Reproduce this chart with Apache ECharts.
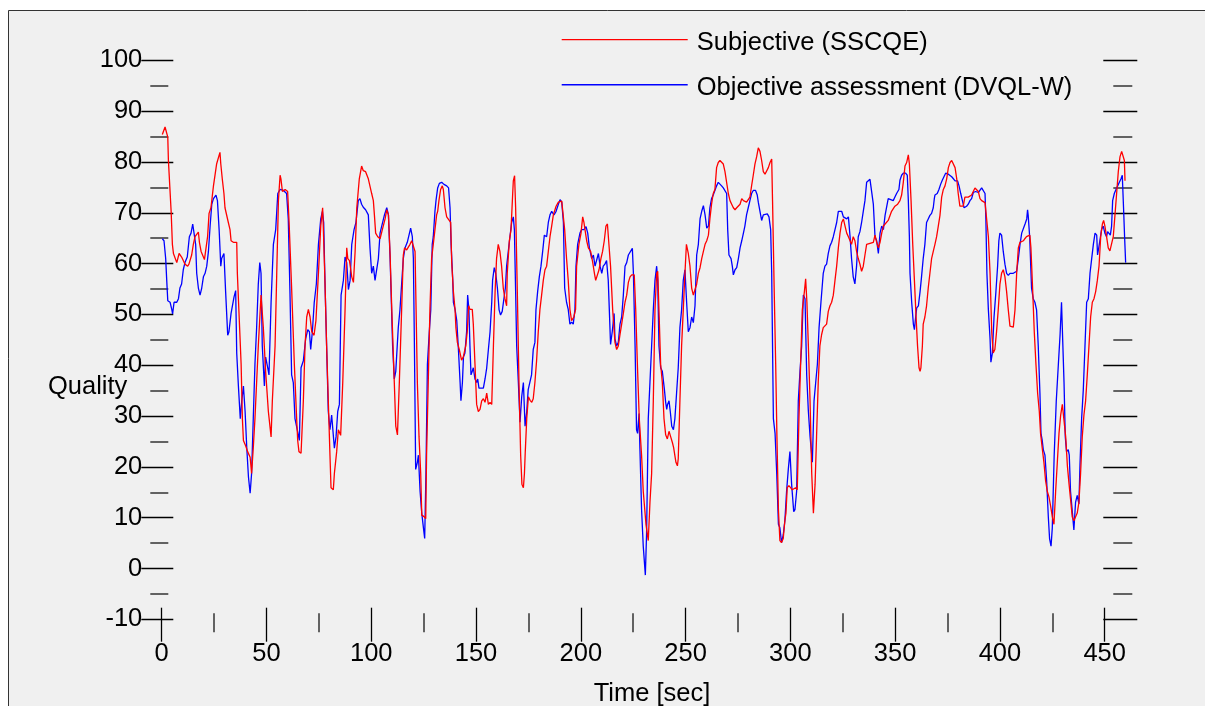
<!DOCTYPE html>
<html>
<head>
<meta charset="utf-8">
<title>Subjective vs objective quality</title>
<script src="https://cdn.jsdelivr.net/npm/echarts@6/dist/echarts.min.js"></script>
<style>
  html, body { margin: 0; padding: 0; background: #fff; }
  #chart { width: 1205px; height: 706px; }
</style>
</head>
<body>
<div id="chart"></div>
<script>
// [time (sec), quality] pairs
var subjectiveSSCQE = [
    [0.3,85.4],[1.6,86.9],[2.4,86.7],[2.9,84.9],[3.2,80.3],[4.5,70.3],[5.1,63.8],[5.6,62.0],[7.2,60.2],[8.3,62.0],[9.5,61.3],[10.3,60.6],[11.1,59.9],[12.4,59.5],[13.0,59.9],[14.3,61.7],[15.1,63.8],[15.9,65.3],[17.5,66.2],[18.0,64.2],[18.8,62.4],[20.4,60.8],[21.0,61.0],[21.9,65.3],[22.6,69.9],[23.5,71.0],[24.7,75.3],[26.2,79.6],[27.8,81.9],[28.2,79.6],[28.9,76.7],[29.7,73.8],[30.2,71.0],[31.8,68.1],[32.6,66.7],[33.1,64.5],[34.2,64.2],[35.8,64.2],[36.1,58.1],[37.4,45.2],[37.9,40.2],[38.5,29.5],[39.0,25.2],[40.1,24.1],[41.0,23.0],[42.2,21.9],[42.9,18.7],[43.7,23.7],[44.5,29.5],[46.1,43.8],[47.4,53.8],[48.5,47.4],[49.6,38.8],[50.9,30.9],[52.2,25.9],[52.8,33.0],[54.1,43.8],[54.9,58.1],[55.7,72.4],[56.5,77.4],[56.9,76.7],[57.6,74.2],[58.9,74.6],[60.1,74.2],[60.8,68.1],[62.0,55.2],[63.3,40.2],[64.4,29.5],[64.9,25.2],[65.5,23.0],[66.5,22.7],[67.6,33.0],[68.4,43.8],[69.2,49.5],[70.0,51.0],[70.8,49.5],[71.6,46.6],[72.7,45.9],[73.6,48.8],[74.8,58.1],[75.9,67.4],[76.8,71.0],[77.1,67.4],[77.9,56.7],[78.7,43.8],[79.5,33.0],[80.3,22.3],[80.8,15.9],[81.9,15.5],[82.4,18.7],[83.5,23.0],[84.3,27.3],[85.4,26.2],[86.4,36.6],[87.5,50.9],[88.3,63.1],[88.8,61.0],[89.6,60.6],[90.7,57.4],[91.5,56.3],[92.3,62.4],[93.1,71.0],[94.3,76.7],[95.4,79.2],[96.2,78.3],[97.3,78.1],[98.6,76.7],[100.2,73.8],[101.0,72.4],[101.5,69.6],[102.1,66.0],[103.1,65.3],[104.2,64.9],[105.3,66.7],[106.6,68.8],[107.4,70.6],[108.2,69.6],[109.0,61.7],[109.8,50.9],[111.0,36.6],[111.7,28.0],[112.5,26.3],[113.4,36.6],[114.5,50.9],[115.3,61.7],
    [115.9,63.1],[116.9,62.7],[117.7,62.7],[118.5,63.8],[119.3,64.5],[120.1,64.4],[120.9,62.4],[121.4,50.9],[122.0,36.6],[122.8,25.9],[123.6,18.7],[124.1,10.5],[125.2,10.2],[126.0,9.8],[126.4,22.3],[127.2,36.6],[128.0,50.9],[128.8,61.0],[129.6,63.8],[130.4,66.7],[131.2,69.6],[131.7,70.3],[132.3,72.4],[133.1,74.6],[133.9,75.3],[134.4,74.6],[135.2,71.0],[136.0,69.2],[136.9,69.0],[137.9,68.1],[138.4,60.2],[139.2,54.5],[140.0,50.9],[140.4,47.4],[141.1,44.5],[142.0,43.1],[143.1,41.0],[143.9,41.6],[145.1,43.8],[145.8,46.6],[146.5,51.7],[147.1,51.0],[148.2,51.0],[148.7,48.1],[149.5,40.2],[150.3,32.3],[151.1,30.9],[151.9,31.3],[152.7,33.0],[153.5,33.4],[154.3,32.7],[155.1,34.5],[155.9,32.3],[156.7,32.7],[157.5,32.3],[158.3,43.8],[159.1,54.5],[159.8,61.0],[160.6,63.8],[161.4,62.4],[162.2,59.5],[163.0,55.2],[163.8,53.1],[164.6,51.7],[164.9,58.1],[165.9,64.5],[166.7,66.7],[167.5,73.8],[167.8,76.3],[168.4,77.3],[168.9,71.0],[169.7,54.5],[170.5,36.6],[171.3,22.3],[171.9,16.6],[172.6,15.9],[173.1,18.7],[173.5,23.0],[174.2,29.5],[175.0,33.8],[175.8,33.1],[176.6,32.7],[177.3,33.4],[178.1,36.6],[178.9,40.9],[179.7,46.6],[180.5,51.0],[181.3,53.8],[182.1,56.7],[182.9,58.8],[183.7,59.5],[184.5,62.4],[185.3,65.3],[186.1,67.4],[186.9,69.6],[188.2,71.3],[189.3,72.1],[190.1,72.4],[190.9,72.3],[191.7,72.1],[192.3,66.7],[193.2,61.0],[194.0,56.7],[194.8,51.0],[195.6,48.8],[196.7,49.5],[197.5,51.0],[198.0,59.5],[199.1,63.8],[200.1,66.0],[200.9,69.2],[201.5,68.1],[202.0,66.7],[202.8,64.5],[203.6,63.1],[204.7,62.4],[205.7,60.2],[206.5,58.1],[207.1,56.7],[207.9,57.0],[208.7,58.8],[209.6,61.0],[210.4,62.4],[211.2,64.5],[212.0,67.4],[212.7,67.8],[213.6,67.8],[214.2,59.5],[215.2,51.0],[216.3,44.5],[217.1,43.1],[217.9,43.8],[218.7,46.0],[219.5,48.1],[220.3,50.2],[221.1,52.4],[221.9,53.8],[222.7,56.3],[223.5,57.4],[224.3,57.8],[225.5,57.8],[226.2,51.0],[227.0,40.2],[227.9,29.5],[229.0,22.3],[229.8,15.2],[231.1,8.7],
    [232.2,5.5],[233.0,13.0],[233.8,18.7],[234.6,33.0],[235.4,50.9],[236.2,58.1],[236.7,58.5],[237.3,50.9],[238.1,40.2],[238.9,36.6],[239.7,29.5],[240.5,26.3],[241.3,25.5],[242.1,27.0],[242.9,25.9],[243.7,24.8],[244.3,23.8],[244.9,24.1],[245.4,20.9],[246.1,20.2],[246.5,21.6],[247.3,33.0],[248.1,43.8],[248.9,50.9],[249.7,58.1],[250.4,63.8],[251.3,62.0],[252.1,59.5],[252.9,55.2],[253.7,53.8],[254.5,53.8],[255.3,56.0],[256.1,58.1],[256.9,59.2],[257.7,61.0],[258.5,62.4],[259.3,63.8],[260.1,64.5],[260.9,65.6],[261.6,68.8],[262.4,71.7],[263.2,73.8],[264.0,74.6],[264.8,78.9],[265.6,79.9],[266.4,80.3],[267.2,80.6],[268.0,79.6],[268.8,78.1],[269.6,78.3],[270.4,73.8],[271.2,72.4],[272.0,71.7],[272.8,71.0],[273.6,70.6],[274.4,71.0],[275.2,71.1],[276.0,71.7],[276.8,72.8],[277.6,72.4],[278.3,72.1],[279.1,72.1],[279.9,72.4],[280.7,73.1],[281.5,75.3],[282.3,77.4],[283.1,79.6],[283.9,81.0],[284.7,82.8],[285.5,82.1],[286.3,80.3],[287.1,78.1],[287.9,77.6],[288.7,77.8],[289.5,78.9],[290.3,79.9],[291.1,80.6],[291.5,72.4],[292.3,54.5],[293.0,40.2],[293.6,25.9],[294.3,11.6],[295.0,5.5],[295.8,5.1],[296.6,5.9],[297.4,9.5],[297.9,10.9],[298.5,15.9],[299.3,16.3],[300.1,15.9],[300.9,15.5],[301.7,15.2],[302.5,15.9],[303.3,15.5],[304.1,29.5],[304.9,40.2],[305.7,50.9],[306.7,54.5],[307.3,57.0],[307.9,52.4],[308.6,43.8],[309.4,33.0],[310.2,18.7],[311.0,10.9],[311.8,16.6],[312.5,25.9],[313.3,36.6],[314.1,43.8],[314.9,46.0],[315.7,47.4],[316.5,47.4],[317.3,48.1],[318.1,50.6],[318.9,51.7],[319.7,52.4],[320.5,53.8],[321.3,56.7],[322.1,59.5],[322.9,63.1],[323.7,66.0],[324.5,68.1],[325.3,68.8],[326.1,67.4],[326.9,66.0],[327.7,65.3],[328.5,64.5],[329.2,63.8],[330.0,65.3],[330.8,64.5],[331.6,62.4],[332.4,61.0],[333.2,59.9],[334.0,58.5],[334.8,59.5],[335.6,61.7],[336.4,63.8],[337.2,63.8],[338.0,64.0],[338.8,63.8],[339.6,64.2],[340.4,65.6],[341.2,64.2],[342.0,63.1],[342.8,64.2],[343.6,66.0],[344.4,67.4],
    [345.2,67.4],[346.7,68.5],[348.3,70.3],[349.9,71.3],[351.2,71.7],[352.3,72.4],[353.1,73.5],[353.9,76.0],[354.7,79.2],[355.5,79.9],[356.3,81.4],[356.8,79.6],[357.6,72.4],[358.4,63.8],[359.2,56.7],[360.0,49.5],[360.7,43.8],[361.4,39.5],[361.9,38.8],[362.3,39.5],[363.0,43.8],[363.4,48.1],[364.2,49.5],[365.0,51.7],[365.8,55.2],[366.6,58.1],[367.4,61.0],[368.2,62.4],[369.0,63.8],[369.8,65.3],[370.6,67.4],[371.4,69.5],[372.2,73.1],[373.0,74.6],[373.8,75.3],[374.6,76.7],[375.4,78.9],[376.2,79.9],[377.0,80.3],[377.8,80.3],[378.6,78.9],[379.4,76.7],[380.1,73.8],[380.9,71.3],[381.7,71.1],[382.5,71.3],[383.3,73.1],[384.1,73.3],[384.9,73.1],[385.7,73.0],[386.5,73.5],[387.3,74.2],[388.1,74.9],[388.9,74.9],[389.7,74.2],[390.5,72.8],[391.3,72.4],[392.1,72.2],[392.9,72.0],[393.7,71.7],[394.5,65.3],[395.3,58.1],[396.1,46.6],[396.8,42.4],[397.6,43.1],[398.4,46.6],[399.2,50.9],[400.0,55.9],[400.8,58.1],[401.6,58.8],[402.4,57.4],[403.2,54.5],[404.0,50.9],[404.8,47.7],[405.6,47.4],[406.4,47.5],[407.2,50.9],[408.0,58.1],[408.8,63.1],[409.6,64.2],[410.4,64.2],[411.2,64.5],[411.9,64.9],[412.7,65.3],[413.5,65.6],[414.3,65.6],[414.8,63.1],[415.6,55.2],[416.4,46.6],[417.2,40.2],[418.0,34.5],[418.8,30.9],[419.4,26.6],[420.2,23.7],[421.0,20.9],[421.8,17.3],[422.6,15.2],[423.4,14.1],[424.2,12.3],[425.0,10.2],[425.8,8.7],[426.6,15.2],[427.4,20.9],[428.2,26.6],[429.0,30.2],[429.8,32.3],[430.6,32.0],[431.4,25.9],[432.2,20.2],[433.0,16.6],[433.7,13.7],[434.5,10.2],[435.3,9.4],[436.1,9.4],[436.9,10.9],[437.7,13.0],[438.5,18.7],[439.3,25.9],[440.1,30.2],[440.9,33.0],[441.7,38.1],[442.5,43.8],[443.3,49.5],[444.1,52.4],[444.9,53.1],[445.7,54.5],[446.5,56.7],[447.3,59.5],[448.1,65.3],[448.9,67.8],[449.5,68.5],[450.1,67.4],[450.9,65.3],[451.7,63.1],[452.5,62.5],[453.3,62.7],[454.1,65.3],[454.9,69.5],[455.7,73.8],[456.5,78.1],[457.3,81.0],[458.1,82.1],[458.9,82.3],[459.4,80.3],[459.7,76.3]
];

var objectiveDVQLW = [
    [0.3,64.9],[1.1,64.5],[1.9,61.0],[2.4,56.7],[2.9,52.7],[4.0,52.4],[4.8,51.0],[5.2,50.1],[5.9,52.4],[7.2,52.4],[8.0,53.1],[8.7,55.2],[9.5,56.0],[10.3,58.8],[11.1,60.2],[12.2,61.3],[13.2,65.3],[14.0,66.0],[14.8,67.8],[15.6,68.1],[16.2,63.8],[16.7,58.1],[17.5,55.2],[18.3,53.8],[19.1,55.2],[19.9,57.4],[20.7,58.1],[21.5,59.5],[22.3,62.4],[23.1,67.4],[23.9,71.7],[24.7,72.8],[25.9,73.5],[26.6,72.4],[27.4,66.7],[28.2,59.5],[28.6,61.0],[29.7,62.0],[30.5,54.5],[31.5,45.9],[32.1,46.6],[33.1,50.2],[33.7,49.9],[34.5,53.4],[35.3,54.7],[35.8,42.4],[36.6,35.9],[37.5,29.5],[38.2,33.0],[39.0,35.9],[39.8,30.9],[40.6,23.7],[41.4,18.0],[42.2,14.8],[42.9,18.7],[43.7,29.5],[44.5,40.2],[45.3,47.4],[46.1,56.0],[46.8,60.2],[47.4,58.1],[48.0,43.8],[49.0,35.9],[49.6,41.6],[50.6,39.5],[51.2,38.1],[52.2,52.4],[53.3,63.8],[54.4,66.7],[55.4,73.8],[56.5,74.6],[58.1,74.4],[59.6,73.8],[60.4,68.8],[61.2,54.5],[62.0,38.1],[62.8,36.6],[63.6,29.5],[64.7,27.3],[65.7,25.2],[66.5,39.5],[67.6,40.9],[68.7,45.2],[69.7,47.0],[70.5,46.6],[71.1,43.1],[71.9,46.6],[72.8,52.4],[73.8,56.0],[74.8,63.8],[75.9,68.8],[76.7,70.3],[77.3,68.1],[77.9,56.7],[78.7,43.8],[79.5,30.9],[80.3,27.3],[81.1,30.2],[81.6,30.5],[82.4,23.7],[83.2,25.9],[84.0,30.9],[84.8,32.3],[85.6,53.8],[86.7,56.7],[87.5,61.3],[88.3,60.2],[89.1,54.9],[89.9,56.7],[90.7,63.8],[91.8,66.7],[92.7,68.1],[93.8,72.4],[94.6,72.8],[95.4,71.7],[96.2,71.1],[97.3,70.6],[98.6,69.6],[99.4,63.1],[100.2,58.1],[101.0,59.5],[101.8,56.7],[102.6,56.7],[103.4,61.0],[104.2,66.0],[105.0,67.4],[106.3,69.6],[107.4,71.0],[108.2,69.6],[109.0,61.0],[110.2,43.8],[111.0,37.3],[111.7,38.8],[112.9,47.4],[113.7,50.9],[114.5,56.0],[115.3,61.0],
    [116.1,63.1],[117.2,64.2],[118.0,64.5],[118.8,67.0],[119.6,65.3],[120.1,61.0],[120.6,43.8],[121.2,19.5],[122.0,20.9],[122.5,22.3],[123.3,15.2],[124.1,10.9],[124.9,8.0],[125.5,5.9],[126.1,18.7],[126.8,40.2],[127.7,46.6],[128.4,50.9],[129.1,63.8],[129.6,65.3],[130.4,70.3],[130.9,72.4],[131.7,74.9],[132.5,75.8],[133.6,76.0],[134.7,75.6],[136.0,75.3],[136.9,74.9],[137.6,71.0],[138.1,63.8],[138.9,56.7],[139.2,52.4],[140.0,51.0],[140.8,48.8],[141.6,43.1],[142.4,36.6],[142.8,33.0],[143.5,36.6],[144.0,41.6],[144.7,42.4],[145.5,46.6],[146.0,53.8],[146.6,51.0],[147.1,43.8],[147.6,38.1],[148.2,38.8],[148.7,39.5],[149.5,37.3],[150.3,36.6],[150.8,37.3],[151.4,35.5],[153.5,35.5],[154.3,37.3],[155.1,39.5],[155.9,43.1],[156.7,46.6],[157.5,52.4],[157.9,56.7],[158.7,59.2],[159.4,58.1],[160.2,55.2],[161.0,50.9],[161.7,49.9],[162.5,50.6],[163.3,50.4],[164.0,55.2],[164.6,59.5],[165.4,62.4],[166.2,65.3],[167.0,68.1],[167.8,69.2],[168.3,66.7],[168.9,54.5],[169.4,43.8],[170.2,36.6],[171.0,28.8],[171.8,33.8],[172.6,36.6],[173.4,28.0],[174.2,30.9],[174.9,35.2],[175.7,35.2],[176.5,38.1],[177.3,43.1],[178.1,44.5],[178.6,50.9],[179.4,54.5],[180.2,57.4],[181.0,59.5],[181.8,62.4],[182.6,65.6],[183.7,65.3],[184.5,68.1],[185.3,69.6],[186.1,70.3],[187.2,69.6],[188.2,70.3],[189.3,71.7],[190.1,72.6],[190.9,72.1],[191.7,68.1],[192.3,55.2],[193.2,52.4],[194.0,51.0],[194.8,48.1],[195.6,48.5],[196.4,48.1],[197.2,51.0],[197.7,59.5],[198.5,63.8],[199.6,66.0],[200.4,66.7],[201.5,66.7],[202.5,67.3],[203.3,66.0],[204.1,63.1],[205.2,61.0],[206.0,61.7],[206.8,59.5],[207.6,59.2],[208.4,62.0],[209.2,59.5],[210.0,58.1],[210.7,59.5],[211.5,59.9],[212.3,60.6],[213.1,56.7],[213.6,51.0],[214.2,44.1],[215.0,46.6],[215.9,50.2],[216.3,45.2],[217.1,43.8],[217.9,44.5],[218.7,48.1],[219.5,49.5],[220.3,53.8],[221.1,59.5],[221.9,60.2],[222.7,61.7],[223.5,62.0],[224.6,63.0],[225.1,58.1],[225.9,43.8],[226.6,27.3],[227.1,26.6],[227.8,30.5],[228.2,23.7],[229.0,11.6],[229.8,4.4],[230.8,-1.3],[231.4,7.0],
    [232.2,29.5],[233.0,36.6],[233.8,43.8],[234.6,50.9],[235.4,56.7],[236.2,59.5],[236.7,56.7],[237.3,43.8],[238.1,39.5],[238.9,38.8],[239.9,35.2],[240.5,32.7],[241.0,31.3],[241.4,32.3],[242.1,33.0],[242.7,30.9],[243.4,28.0],[244.2,27.3],[244.9,29.5],[245.7,34.5],[246.5,39.5],[247.3,47.4],[248.1,50.9],[248.9,56.7],[249.7,58.8],[250.5,52.4],[251.3,46.6],[252.1,47.4],[252.9,49.5],[253.7,48.4],[254.5,51.7],[255.3,61.7],[256.1,63.8],[256.9,68.8],[257.7,70.3],[258.5,71.4],[259.3,69.6],[260.1,67.0],[260.9,67.4],[261.6,71.0],[262.4,72.8],[263.2,73.5],[264.0,73.8],[264.8,75.3],[265.6,76.0],[266.4,76.0],[267.2,75.3],[268.0,74.9],[268.8,74.6],[269.6,73.8],[270.1,66.7],[270.7,61.7],[271.7,61.0],[272.3,59.5],[272.8,57.8],[273.6,58.8],[274.4,59.2],[275.2,61.0],[276.0,63.1],[276.8,64.5],[277.6,66.0],[278.3,67.4],[279.1,69.6],[279.9,71.0],[280.7,72.4],[281.5,73.8],[282.3,74.4],[283.4,74.4],[284.2,73.5],[284.7,72.1],[285.5,70.3],[286.3,68.5],[287.1,69.6],[287.9,69.8],[289.0,69.8],[289.8,69.2],[290.6,66.7],[291.1,58.1],[291.9,29.5],[292.7,26.6],[293.5,18.7],[294.3,8.7],[295.0,8.0],[295.8,5.1],[296.6,6.6],[297.4,9.5],[298.2,15.2],[299.0,19.4],[299.8,23.0],[300.6,16.6],[301.6,11.2],[302.2,11.6],[303.0,15.2],[303.8,33.0],[304.6,38.8],[305.4,43.8],[306.2,53.8],[307.0,53.1],[307.8,38.1],[308.6,30.9],[309.4,26.0],[310.5,20.9],[311.3,33.0],[312.1,36.6],[312.9,40.2],[313.7,47.4],[314.6,52.4],[315.7,58.1],[316.5,59.5],[317.3,59.9],[318.1,62.0],[318.9,63.5],[319.7,64.2],[320.5,65.3],[321.3,66.7],[322.1,68.1],[322.9,70.3],[323.7,70.6],[324.5,70.3],[325.3,69.2],[326.1,69.2],[326.9,68.8],[327.7,69.2],[328.5,65.3],[329.2,61.0],[330.0,57.4],[330.8,56.0],[331.6,59.5],[332.4,65.3],[333.2,66.3],[334.0,68.1],[334.8,70.3],[335.6,72.4],[336.4,76.0],[337.2,76.3],[338.0,76.6],[338.8,76.3],[339.6,71.7],[340.4,65.3],[341.2,64.5],[342.0,62.0],[342.8,66.0],[343.6,67.4],[344.4,66.7],
    [345.2,69.5],[346.7,72.8],[347.5,72.5],[349.1,72.4],[349.9,73.1],[350.7,73.8],[351.8,74.6],[352.3,76.4],[353.1,77.4],[353.9,77.8],[355.0,77.8],[355.8,77.4],[356.3,72.4],[356.8,65.3],[357.1,58.1],[357.9,52.4],[358.7,48.1],[359.2,47.0],[359.8,49.5],[360.3,51.3],[361.1,51.7],[361.9,54.5],[362.6,57.4],[363.4,61.0],[364.2,63.8],[365.0,68.1],[365.8,68.8],[366.6,69.5],[367.4,69.9],[368.2,71.0],[368.7,72.8],[369.0,73.5],[370.1,73.8],[370.9,74.6],[371.7,75.6],[372.5,76.4],[373.3,77.1],[374.1,77.8],[375.4,77.6],[376.2,77.4],[377.0,77.1],[377.8,76.7],[378.6,76.3],[379.8,76.3],[380.5,75.3],[381.3,73.8],[382.1,72.4],[382.9,71.0],[383.3,70.8],[384.1,71.3],[384.9,71.7],[385.7,72.4],[386.5,72.8],[387.3,74.0],[388.4,74.2],[389.7,74.0],[390.5,74.2],[391.3,74.9],[392.1,74.9],[392.9,73.8],[393.3,68.8],[393.8,58.1],[394.5,50.9],[395.3,45.2],[395.7,40.6],[396.4,42.4],[397.2,49.5],[398.1,54.5],[398.9,59.5],[399.5,64.5],[400.0,66.0],[400.8,65.6],[401.6,62.4],[402.4,59.9],[403.2,58.1],[404.0,57.7],[404.8,58.1],[405.6,57.9],[406.4,58.1],[407.2,58.2],[408.0,58.5],[408.8,61.0],[409.6,63.8],[410.4,66.0],[411.2,66.3],[412.0,67.8],[412.8,68.8],[413.2,70.6],[413.5,69.5],[414.2,65.3],[415.1,55.2],[415.9,53.1],[416.7,52.4],[417.5,50.9],[418.3,43.8],[419.1,34.5],[419.6,26.6],[420.2,25.2],[420.7,23.4],[421.5,22.3],[422.3,17.3],[423.1,10.2],[423.7,5.9],[424.4,4.4],[425.0,8.0],[425.9,22.3],[426.9,33.0],[427.9,40.2],[428.7,45.9],[429.4,52.4],[429.9,52.4],[430.6,36.6],[431.2,25.9],[431.8,23.0],[432.6,23.4],[433.1,22.3],[433.7,15.2],[434.7,10.5],[435.3,7.6],[436.1,13.0],[436.9,14.4],[437.7,12.7],[438.2,20.2],[439.0,29.5],[439.8,35.2],[440.6,43.8],[441.4,52.4],[442.2,53.1],[443.0,58.1],[443.8,61.0],[444.6,63.8],[445.4,66.0],[446.2,65.6],[446.6,61.7],[447.3,62.0],[447.7,64.5],[448.5,66.7],[449.3,67.4],[450.1,66.0],[450.9,65.3],[451.4,66.3],[452.0,66.0],[452.7,65.6],[453.3,67.4],[453.8,72.4],[454.6,73.8],[455.4,74.6],[456.2,75.3],[457.0,76.0],[457.8,76.7],[458.4,77.4],[459.0,71.0],[459.5,65.3],[460.0,60.2]
];

var timeMajorTicks = [0, 50, 100, 150, 200, 250, 300, 350, 400, 450];
var timeMinorTicks = [25, 75, 125, 175, 225, 275, 325, 375, 425];
var qualityMinorTicks = [-5, 5, 15, 25, 35, 45, 55, 65, 75, 85, 95];

var FONT = '"Liberation Sans", Arial, sans-serif';
var FONT_SIZE = 25.5;
var TICK_MAJOR = { color: '#000', width: 1.3 };
var TICK_MINOR = { color: '#333', width: 1.5 };

// legend key: a thin 126px bar; a tiny speck at bottom right sets the key box,
// which lifts the bar above the text middle and leaves a gap before the text
var LEGEND_KEY = 'path://M0,0H126V1.4H0Z M129.98,7.75H130V7.8H129.98Z';

// axis that only draws ticks (the plot has no axis lines)
function tickAxis(position, offset, tickLength, tickStyle, tickValues) {
    var isX = position == 'bottom';
    var axis = {
        type: 'value',
        position: position,
        offset: offset,
        min: isX ? 0 : -10,
        max: isX ? 468 : 100,
        axisLine: { show: false, onZero: false },
        axisTick: { show: true, length: tickLength, lineStyle: tickStyle },
        axisLabel: { show: false },
        splitLine: { show: false }
    };
    if (!isX) axis.interval = 10;
    if (tickValues) axis.axisTick.customValues = tickValues;
    return axis;
}

var chart = echarts.init(document.getElementById('chart'), null, { renderer: 'canvas' });

var xMajor = tickAxis('bottom', -11.6, 34, TICK_MAJOR, timeMajorTicks);
xMajor.axisLabel = {
    show: true,
    customValues: timeMajorTicks,
    margin: 33,
    fontFamily: FONT,
    fontSize: FONT_SIZE,
    color: '#000'
};
xMajor.name = 'Time [sec]';
xMajor.nameLocation = 'middle';
xMajor.nameGap = 73;
xMajor.nameTextStyle = { fontFamily: FONT, fontSize: FONT_SIZE, color: '#000' };

var yMajor = tickAxis('left', -11.6, 32, TICK_MAJOR);
yMajor.axisLabel = { show: true, margin: 31, fontFamily: FONT, fontSize: FONT_SIZE, color: '#000' };

var option = {
    animation: false,
    backgroundColor: '#fff',
    // fixed plot box; don't let v6 shrink it to fit the axis name
    grid: { left: 161.7, top: 60.4, width: 980.7, height: 558.9, outerBoundsMode: 'none' },
    legend: {
        orient: 'vertical',
        left: 561.7,
        top: 29.8,
        padding: 0,
        itemGap: 19.2,
        itemWidth: 130,
        itemHeight: 7.8,
        icon: LEGEND_KEY,
        selectedMode: false,
        textStyle: { fontFamily: FONT, fontSize: FONT_SIZE, lineHeight: 25.5, color: '#000' },
        data: ['Subjective (SSCQE)', 'Objective assessment (DVQL-W)']
    },
    graphic: {
        elements: [
            {
                // grey plot panel with its frame
                type: 'rect',
                z: -10,
                silent: true,
                shape: { x: 8.5, y: 10.5, width: 1300, height: 800 },
                style: { fill: '#f0f0f0', stroke: '#333', lineWidth: 1 }
            },
            {
                type: 'text',
                x: 48,
                y: 387,
                style: { text: 'Quality', font: FONT_SIZE + 'px ' + FONT, fill: '#000', verticalAlign: 'middle' }
            }
        ]
    },
    xAxis: [
        xMajor,
        tickAxis('bottom', -6, 19, TICK_MINOR, timeMinorTicks)
    ],
    yAxis: [
        yMajor,
        tickAxis('left', -6.6, 18, TICK_MINOR, qualityMinorTicks),
        tickAxis('right', -39.1, 34, TICK_MAJOR),
        tickAxis('right', -29.1, 19, TICK_MINOR, qualityMinorTicks)
    ],
    series: [
        {
            name: 'Objective assessment (DVQL-W)',
            type: 'line',
            data: objectiveDVQLW,
            symbol: 'none',
            itemStyle: { color: '#0000ff' },
            lineStyle: { color: '#0000ff', width: 1.3 }
        },
        {
            name: 'Subjective (SSCQE)',
            type: 'line',
            data: subjectiveSSCQE,
            symbol: 'none',
            itemStyle: { color: '#ff0000' },
            lineStyle: { color: '#ff0000', width: 1.3 }
        }
    ]
};

chart.setOption(option);
</script>
</body>
</html>
